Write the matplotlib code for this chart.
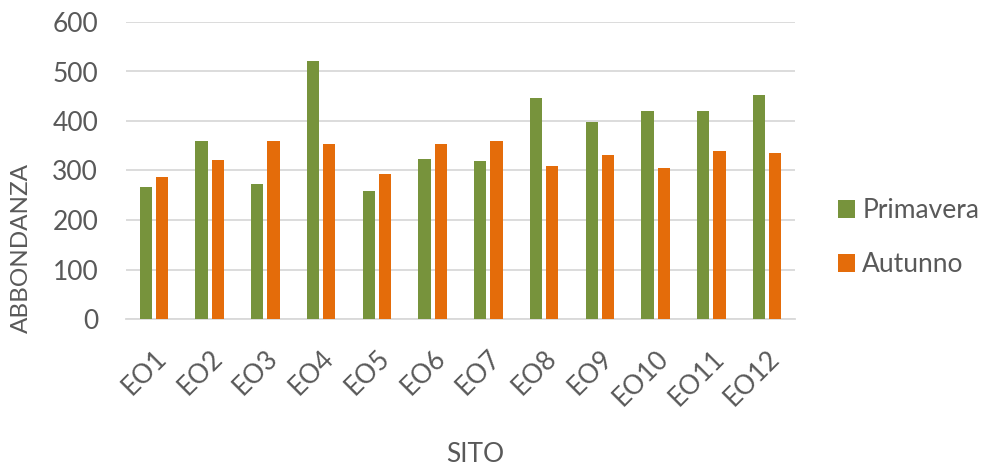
import matplotlib.pyplot as plt
import numpy as np

siti = ["EO1", "EO2", "EO3", "EO4", "EO5", "EO6", "EO7", "EO8", "EO9", "EO10", "EO11", "EO12"]
primavera = [267, 359, 273, 522, 258, 323, 320, 447, 398, 420, 420, 453]
autunno = [287, 322, 360, 354, 293, 353, 360, 309, 332, 305, 340, 336]
y_ticks = [0, 100, 200, 300, 400, 500, 600]

plt.rcParams['font.family'] = ['Lato', 'DejaVu Sans']
text_color = "#595959"
grid_color = "#D9D9D9"
fs = 19

fig = plt.figure(figsize=(9.85, 4.68), dpi=100)
ax = fig.add_axes([126 / 985, 1 - 319 / 468, (795 - 126) / 985, (319 - 22) / 468])

x = np.arange(len(siti))
w = 0.22
gap = 0.07
ax.bar(x - (w + gap) / 2, primavera, width=w, color="#77933C", label="Primavera", zorder=3)
ax.bar(x + (w + gap) / 2, autunno, width=w, color="#E46C0A", label="Autunno", zorder=3)

ax.set_xlim(-0.5, len(siti) - 0.5)
ax.set_ylim(0, 600)
ax.set_yticks(y_ticks)
ax.yaxis.grid(True, color=grid_color, linewidth=1.3, zorder=0)
ax.set_axisbelow(True)
for s in ["top", "right", "left"]:
    ax.spines[s].set_visible(False)
ax.spines["bottom"].set_color(grid_color)
ax.spines["bottom"].set_linewidth(1.3)
ax.tick_params(axis="both", length=0, colors=text_color, labelsize=fs)
ax.tick_params(axis="y", pad=20)
ax.tick_params(axis="x", pad=19)
ax.set_xticks(x)
ax.set_xticklabels(siti, rotation=45, ha="right", va="top", rotation_mode="anchor")

ax.set_ylabel("ABBONDANZA", fontsize=17.5, color=text_color)
ax.yaxis.set_label_coords(-94 / 669, (319 - 248) / 297)
fig.text(475 / 985, 1 - 455 / 468, "SITO", fontsize=fs, color=text_color, ha="center", va="center")

leg = ax.legend(loc="center left", bbox_to_anchor=(838 / 985, 1 - 237.5 / 468), bbox_transform=fig.transFigure,
                frameon=False, fontsize=fs, handlelength=0.65, handleheight=0.65, labelspacing=1.1,
                handletextpad=0.27, borderpad=0, borderaxespad=0)
for t in leg.get_texts():
    t.set_color(text_color)

fig.savefig("out.png", dpi=100)
